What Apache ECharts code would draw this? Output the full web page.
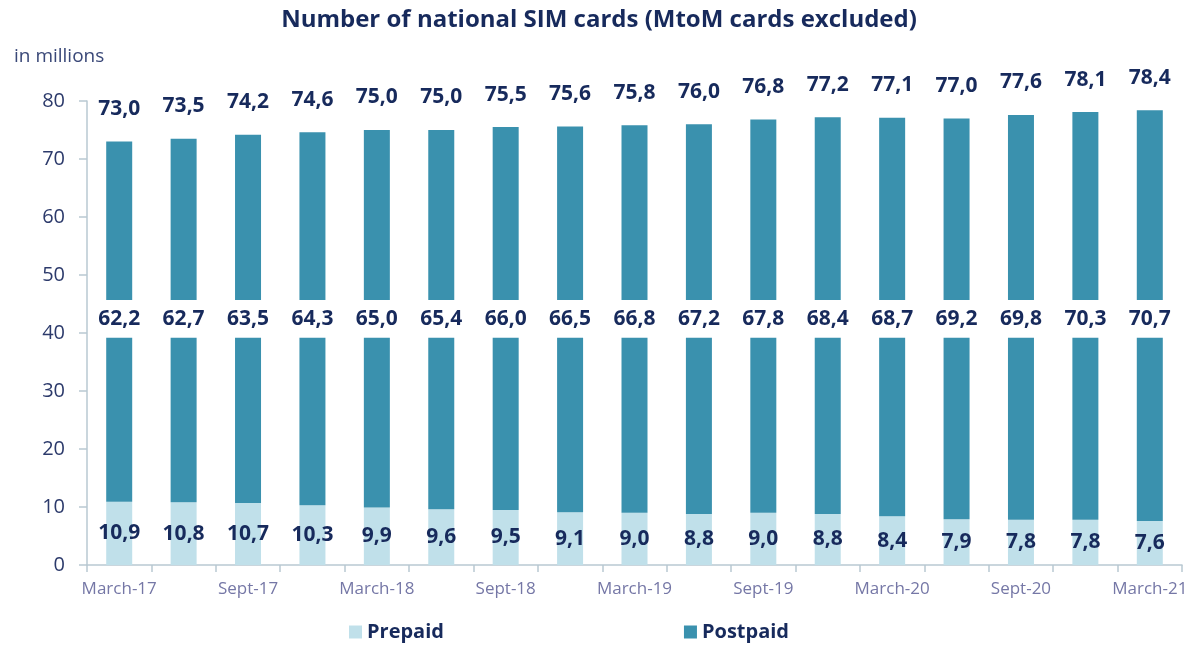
<!DOCTYPE html>
<html>
<head>
<meta charset="utf-8">
<title>Number of national SIM cards</title>
<script src="https://cdn.jsdelivr.net/npm/echarts@6/dist/echarts.min.js"></script>
<style>
  html, body { margin: 0; padding: 0; background: #fff; }
  #chart { width: 1198px; height: 646px; }
</style>
</head>
<body>
<div id="chart"></div>
<script>
const quarters = [
  'March-17', 'June-17', 'Sept-17', 'Dec-17',
  'March-18', 'June-18', 'Sept-18', 'Dec-18',
  'March-19', 'June-19', 'Sept-19', 'Dec-19',
  'March-20', 'June-20', 'Sept-20', 'Dec-20',
  'March-21'
]
const prepaid = [10.9, 10.8, 10.7, 10.3, 9.9, 9.6, 9.5, 9.1, 9.0, 8.8, 9.0, 8.8, 8.4, 7.9, 7.8, 7.8, 7.6]
const postpaid = [62.2, 62.7, 63.5, 64.3, 65.0, 65.4, 66.0, 66.5, 66.8, 67.2, 67.8, 68.4, 68.7, 69.2, 69.8, 70.3, 70.7]
const total = [73.0, 73.5, 74.2, 74.6, 75.0, 75.0, 75.5, 75.6, 75.8, 76.0, 76.8, 77.2, 77.1, 77.0, 77.6, 78.1, 78.4]
const yTicks = [0, 10, 20, 30, 40, 50, 60, 70, 80]

// white cut through the postpaid bars (axis break look)
const GAP_LO = 39.2
const GAP_HI = 45.7

const NAVY = '#172a5c'
const PRE_COLOR = '#c0e0ea'
const POST_COLOR = '#3a91ae'
const AXIS_COLOR = '#b9c9d2'

const fmt = v => v.toFixed(1).replace('.', ',')

const labelStyle = {
  show: true,
  color: NAVY,
  fontFamily: 'Open Sans',
  fontWeight: 'bold',
  fontSize: 21
}

const chart = echarts.init(document.getElementById('chart'))

const option = {
  animation: false,
  title: [{
    text: 'Number of national SIM cards (MtoM cards excluded)',
    left: 'center',
    top: 3,
    textStyle: { color: NAVY, fontFamily: 'Open Sans', fontWeight: 'bold', fontSize: 24 }
  }, {
    text: 'in millions',
    left: 9,
    top: 42,
    textStyle: { color: '#3a4878', fontFamily: 'Open Sans', fontWeight: 'normal', fontSize: 19 }
  }],
  legend: {
    data: ['Prepaid', 'Postpaid'],
    left: 344,
    top: 617,
    itemGap: 240,
    itemWidth: 13,
    itemHeight: 13,
    icon: 'rect',
    textStyle: { color: NAVY, fontFamily: 'Open Sans', fontWeight: 'bold', fontSize: 20 }
  },
  grid: {
    left: 87,
    right: 16,
    top: 101,
    bottom: 81
  },
  xAxis: {
    type: 'category',
    data: quarters,
    axisLine: { lineStyle: { color: AXIS_COLOR, width: 1.5 } },
    axisTick: { show: true, interval: 0, length: 7, lineStyle: { color: AXIS_COLOR, width: 1.5 } },
    axisLabel: {
      interval: 1,
      margin: 16,
      color: '#7577a6',
      fontFamily: 'Open Sans',
      fontSize: 17
    }
  },
  yAxis: {
    type: 'value',
    min: yTicks[0],
    max: yTicks[yTicks.length - 1],
    interval: 10,
    splitLine: { show: false },
    axisLine: { show: true, lineStyle: { color: AXIS_COLOR, width: 1.5 } },
    axisTick: { show: true, length: 8, lineStyle: { color: AXIS_COLOR, width: 1.5 } },
    axisLabel: {
      margin: 22,
      color: '#2c3a6b',
      fontFamily: 'Open Sans',
      fontSize: 20
    }
  },
  series: [
    {
      name: 'Prepaid',
      type: 'bar',
      stack: 'sim',
      barWidth: 26,
      data: prepaid,
      itemStyle: { color: PRE_COLOR },
      label: { ...labelStyle, position: 'inside', formatter: p => fmt(prepaid[p.dataIndex]) }
    },
    {
      name: 'Postpaid',
      type: 'bar',
      stack: 'sim',
      barWidth: 26,
      data: prepaid.map(v => +(GAP_LO - v).toFixed(2)),
      itemStyle: { color: POST_COLOR }
    },
    {
      name: 'gap',
      type: 'bar',
      stack: 'sim',
      barWidth: 26,
      data: prepaid.map(() => +(GAP_HI - GAP_LO).toFixed(2)),
      itemStyle: { color: 'rgba(0,0,0,0)' },
      label: { ...labelStyle, position: 'inside', formatter: p => fmt(postpaid[p.dataIndex]) }
    },
    {
      name: 'Postpaid',
      type: 'bar',
      stack: 'sim',
      barWidth: 26,
      data: total.map(v => +(v - GAP_HI).toFixed(2)),
      itemStyle: { color: POST_COLOR },
      label: { ...labelStyle, position: 'top', distance: 22, formatter: p => fmt(total[p.dataIndex]) }
    }
  ]
}

chart.setOption(option)
</script>
</body>
</html>
